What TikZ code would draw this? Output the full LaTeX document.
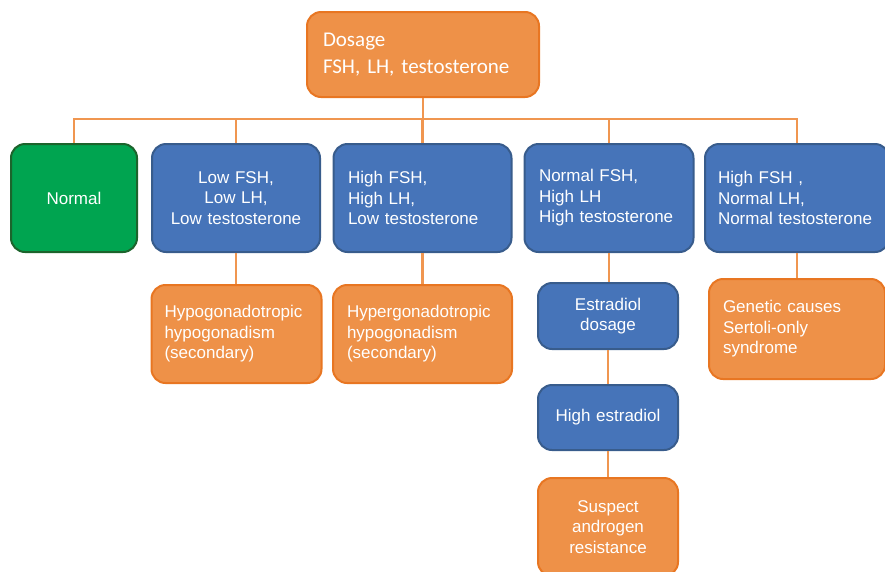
\documentclass[tikz,border=0pt]{standalone}
\usepackage{fontspec}
\setmainfont{Liberation Sans}
\newfontfamily\carlito{Carlito}
\definecolor{ofill}{RGB}{238,145,72}
\definecolor{oline}{RGB}{232,118,34}
\definecolor{bfill}{RGB}{70,116,185}
\definecolor{bline}{RGB}{56,92,140}
\definecolor{gfill}{RGB}{0,164,80}
\definecolor{gline}{RGB}{28,100,44}
\definecolor{conn}{RGB}{240,150,80}
\tikzset{
  box/.style={rounded corners=14pt, line width=2pt, inner ysep=0pt, text=white,
    font=\fontsize{17}{20.5}\selectfont},
  obox/.style={box, fill=ofill, draw=oline},
  bbox/.style={box, fill=bfill, draw=bline},
  gbox/.style={box, fill=gfill, draw=gline},
  lefttext/.style 2 args={minimum width=#1pt, inner xsep=#2pt, text width=#1pt-2*#2pt, align=left},
  ctext/.style={minimum width=#1pt, inner xsep=4pt, text width=#1pt-8pt, align=center},
  link/.style={draw=conn, line width=2.5pt}
}
\begin{document}
\begin{tikzpicture}[x=1pt,y=-1pt]
\path[use as bounding box] (0,0) rectangle (885,571);

\node[obox, lefttext={232}{16}, minimum height=85pt, font=\carlito\fontsize{21}{26.5}\selectfont] (top) at (423,54.5)
  {Dosage\\FSH, LH, testosterone};

\node[gbox, ctext=126, minimum height=108pt] (normal) at (74,198) {Normal};
\node[bbox, ctext=168, minimum height=108pt] (lowfsh) at (236,198) {Low FSH,\\Low LH,\\Low testosterone};
\node[bbox, lefttext={178}{14.5}, minimum height=108pt] (highfsh) at (422.5,198) {High FSH,\\High LH,\\Low testosterone};
\node[bbox, lefttext={169}{14.5}, minimum height=108pt] (normfsh) at (609,198) {Normal FSH,\\High LH\\High testosterone};
\node[bbox, lefttext={184}{13}, minimum height=108pt] (highfshb) at (797,198) {High FSH ,\\Normal LH,\\Normal testosterone};

\node[obox, lefttext={170}{13}, minimum height=98pt] (hypo) at (236.5,334) {Hypogonadotropic\\hypogonadism\\(secondary)};
\node[obox, lefttext={179}{14}, minimum height=98pt] (hyper) at (422.5,334) {Hypergonadotropic\\hypogonadism\\(secondary)};
\node[bbox, ctext=140, minimum height=66pt] (estr) at (608,316) {Estradiol\\dosage};
\node[bbox, ctext=140, minimum height=65pt] (highe) at (608,417.5) {High estradiol};
\node[obox, ctext=140, minimum height=98pt] (suspect) at (608,527) {Suspect\\androgen\\resistance};
\node[obox, lefttext={176}{14}, minimum height=100pt] (genetic) at (797,329) {Genetic causes\\Sertoli-only\\syndrome};

\coordinate (bus) at (423,119);
\draw[link] (top.south) -- (bus);
\draw[link] (normal.north) |- (bus) -| (highfshb.north);
\draw[link] (lowfsh.north) -- (lowfsh.north |- bus);
\draw[link] (highfsh.north) -- (highfsh.north |- bus);
\draw[link] (normfsh.north) -- (normfsh.north |- bus);

\draw[link] (lowfsh.south) -- (lowfsh.south |- hypo.north);
\draw[link] (highfsh.south) -- (highfsh.south |- hyper.north);
\draw[link] (normfsh.south) -- (normfsh.south |- estr.north);
\draw[link] (estr.south) -- (highe.north);
\draw[link] (highe.south) -- (suspect.north);
\draw[link] (highfshb.south) -- (highfshb.south |- genetic.north);
\end{tikzpicture}
\end{document}
